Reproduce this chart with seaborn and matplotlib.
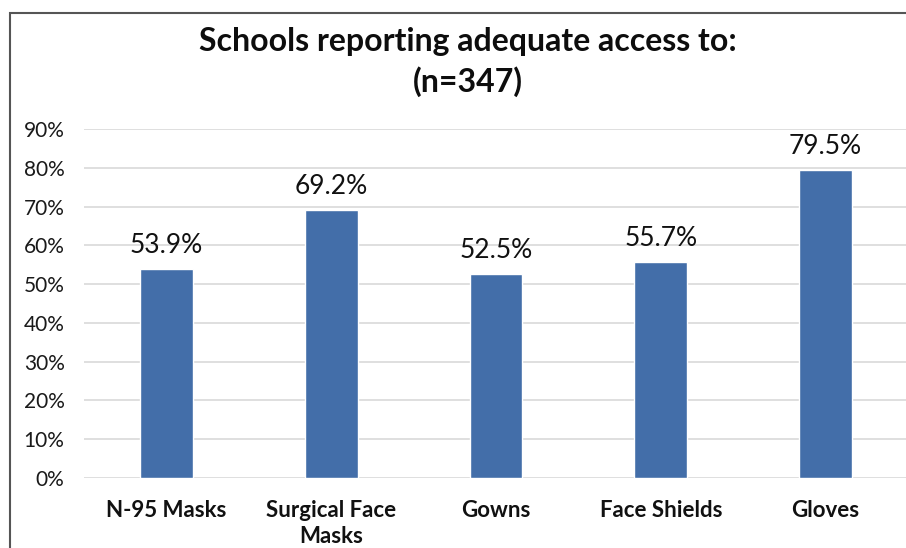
import matplotlib
matplotlib.use("Agg")
import matplotlib.pyplot as plt
import seaborn as sns
import pandas as pd
from matplotlib.patches import Rectangle

categories = ["N-95 Masks", "Surgical Face\nMasks", "Gowns", "Face Shields", "Gloves"]
values = [53.9, 69.2, 52.5, 55.7, 79.5]
yticks = [0, 10, 20, 30, 40, 50, 60, 70, 80, 90]
title = "Schools reporting adequate access to:\n(n=347)"

sns.set_theme(style="white")
plt.rcParams["font.family"] = ["Lato", "DejaVu Sans"]

df = pd.DataFrame({"item": categories, "pct": values})

fig = plt.figure(figsize=(9.06, 5.48), dpi=100)
fig.patch.set_facecolor("white")
ax = fig.add_axes([84 / 906, 1 - 478 / 548, 824 / 906, (478 - 129) / 548])

sns.barplot(data=df, x="item", y="pct", color="#436EA9", saturation=1,
            width=0.32, ax=ax, zorder=3)

ax.set_ylim(0, 90)
ax.set_xlim(-0.5, len(categories) - 0.5)
ax.set_yticks(yticks)
ax.set_yticklabels([f"{t}%" for t in yticks], fontsize=15, color="#1a1a1a")
ax.yaxis.grid(True, color="#d9d9d9", linewidth=1.2, zorder=0)
ax.set_axisbelow(True)
for s in ax.spines.values():
    s.set_visible(False)
ax.tick_params(axis="y", length=0, pad=14)
ax.tick_params(axis="x", length=0, pad=16)
for lbl in ax.get_xticklabels():
    lbl.set_fontweight("bold")
    lbl.set_fontsize(16)
    lbl.set_color("#111111")
    lbl.set_linespacing(1.3)
ax.set_xlabel("")
ax.set_ylabel("")

for container in ax.containers:
    ax.bar_label(container, labels=[f"{v:.1f}%" for v in values],
                 padding=8, fontsize=19, color="#111111")

fig.text(468 / 906, 1 - 62 / 548, title, ha="center", va="center",
         fontsize=23, fontweight="bold", color="#0d0d0d", linespacing=1.4)

# chart frame
fig.patches.append(Rectangle((10 / 906, -0.1), 1.2, 1 - 13 / 548 + 0.1,
                             transform=fig.transFigure, fill=False,
                             edgecolor="#555555", linewidth=1.5))

fig.savefig("out.png", dpi=100, facecolor="white")
